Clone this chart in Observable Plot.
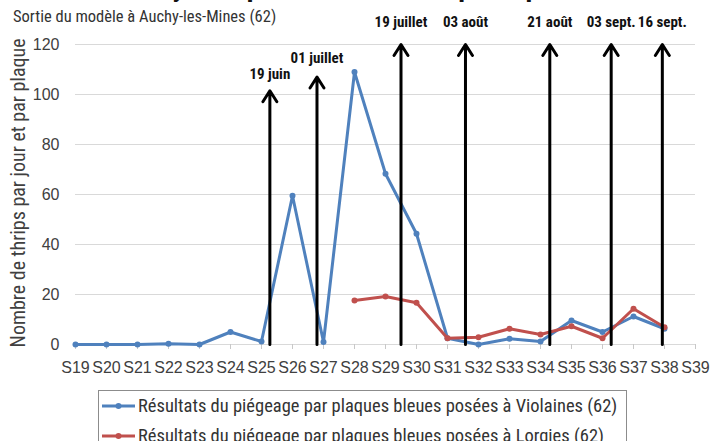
<!DOCTYPE html>
<html>
<head>
<meta charset="utf-8">
<script src="https://cdn.jsdelivr.net/npm/d3@7"></script>
<script src="https://cdn.jsdelivr.net/npm/@observablehq/plot@0.6"></script>
<style>
  body { margin:0; background:#fff; }
  #wrap { position:relative; width:710px; height:441px; overflow:hidden; background:#fff;
          font-family:"Roboto Condensed","Liberation Sans Narrow","DejaVu Sans Condensed","Liberation Sans",sans-serif; }
  #subtitle { position:absolute; left:13px; top:7px; font-size:16.5px; color:#333; white-space:nowrap; }
  #legend { position:absolute; left:98px; top:390px; width:529px; height:70px; border:1px solid #8c8c8c; box-sizing:border-box; }
  .row { position:absolute; left:2px; height:22px; display:flex; align-items:center; font-size:18.5px; color:#333; white-space:nowrap; }
  .row svg { margin-right:2px; }
  svg text.tick { font-family:"Liberation Sans", Arial, sans-serif !important; font-size:16px !important; }
</style>
</head>
<body>
<div id="wrap">
  <div id="chart"></div>
  <div id="subtitle"></div>
  <div id="legend"></div>
</div>
<script>
// ---- Data ----
const titleText = "Dynamique des vols de thrips du poireau";
const subtitleText = "Sortie du modèle à Auchy-les-Mines (62)";
const yAxisLabel = "Nombre de thrips par jour et par plaque";
const weeks = [19,20,21,22,23,24,25,26,27,28,29,30,31,32,33,34,35,36,37,38,39];
const yTicks = [0,20,40,60,80,100,120];
const violainesWeeks = [19,20,21,22,23,24,25,26,27,28,29,30,31,32,33,34,35,36,37,38];
const violainesValues = [0,0,0,0.3,0,5,1.2,59.5,1,109,68.3,44.3,2.5,0,2.3,1.2,9.6,5,11.2,6.3];
const lorgiesWeeks = [28,29,30,31,32,33,34,35,36,37,38];
const lorgiesValues = [17.6,19.2,16.7,2.5,2.9,6.3,4,7.3,2.5,14.3,6.9];
const arrowLabels = ["19 juin","01 juillet","19 juillet","03 août","21 août","03 sept.","16 sept."];
const arrowWeeks = [25.27,26.79,29.5,31.58,34.3,36.28,37.93];
const arrowTops = [101.5,107,120,120,120,120,120];
const labelValues = [108,114.4,128.8,128.8,128.8,128.8,128.8];
const seriesNames = ["Résultats du piégeage par plaques bleues posées à Violaines (62)",
                     "Résultats du piégeage par plaques bleues posées à Lorgies (62)"];
const seriesColors = ["#4f81bd","#c0504d"];

// ---- Tables ----
const violaines = violainesWeeks.map((w,i)=>({week:w, value:violainesValues[i]}));
const lorgies = lorgiesWeeks.map((w,i)=>({week:w, value:lorgiesValues[i]}));
const arrows = arrowWeeks.map((w,i)=>({x:w, top:arrowTops[i], ly:labelValues[i], label:arrowLabels[i]}));

const font = '"Roboto Condensed","Liberation Sans Narrow","DejaVu Sans Condensed","Liberation Sans",sans-serif';
const tickFont = '"Liberation Sans", Arial, sans-serif';

const chart = Plot.plot({
  width:710, height:380,
  marginTop:44, marginLeft:75, marginRight:15, marginBottom:36,
  x:{domain:[19,39], label:null},
  y:{domain:[0,120], label:null},
  style:{fontFamily:font, fontSize:"15px", color:"#404040", overflow:"visible", background:"transparent"},
  marks:[
    Plot.gridY(yTicks.slice(1), {stroke:"#d9d9d9", strokeOpacity:1, strokeWidth:1}),
    Plot.ruleY([0], {stroke:"#d9d9d9", strokeWidth:1}),
    Plot.axisX(weeks, {tickSize:5, stroke:"#c8c8c8", tickFormat:()=>"", label:null}),
    Plot.axisX(weeks, {tickSize:0, tickPadding:17, tickFormat:d=>"S"+d, fill:"#404040", fontFamily:tickFont, fontSize:16, label:null}),
    Plot.axisY(yTicks, {tickSize:0, tickPadding:16, fill:"#404040", fontFamily:tickFont, fontSize:16, label:null}),
    Plot.line(violaines, {x:"week", y:"value", stroke:seriesColors[0], strokeWidth:3}),
    Plot.dot(violaines, {x:"week", y:"value", fill:seriesColors[0], r:3}),
    Plot.line(lorgies, {x:"week", y:"value", stroke:seriesColors[1], strokeWidth:3}),
    Plot.dot(lorgies, {x:"week", y:"value", fill:seriesColors[1], r:3}),
    Plot.arrow(arrows, {x1:"x", x2:"x", y1:()=>0, y2:"top", stroke:"#000", strokeWidth:3, headLength:6.5, headAngle:65}),
    Plot.text(arrows, {x:"x", y:"ly", text:"label", fontWeight:"bold", fontSize:15, fill:"#111"})
  ]
});
document.getElementById("chart").appendChild(chart);

const svg = d3.select(chart);
// tick label fonts
svg.selectAll("text")
  .filter(function(){ return /^(S\d+|\d+)$/.test(this.textContent.trim()); })
  .classed("tick", true)
  .attr("font-family", tickFont).attr("font-size", 16);
// y-axis title (rotated)
svg.append("text")
  .attr("transform","translate(18,193) rotate(-90)")
  .attr("text-anchor","middle").attr("dominant-baseline","central")
  .attr("fill","#404040").attr("font-size",20).attr("font-family",font)
  .text(yAxisLabel);
// title, cut off at the top edge as in the reference
svg.append("text")
  .attr("x",383).attr("y",-4)
  .attr("text-anchor","middle")
  .attr("fill","#111").attr("font-size",28).attr("font-weight","bold").attr("font-family",font)
  .text(titleText);

document.getElementById("subtitle").textContent = subtitleText;

const legend = document.getElementById("legend");
seriesNames.forEach((name,i)=>{
  const row = document.createElement("div");
  row.className = "row";
  row.style.top = (4 + i*30) + "px";
  row.innerHTML = `<svg width="35" height="10"><line x1="1" x2="34" y1="5" y2="5" stroke="${seriesColors[i]}" stroke-width="3"/><circle cx="17.5" cy="5" r="3" fill="${seriesColors[i]}"/></svg><span></span>`;
  row.querySelector("span").textContent = name;
  legend.appendChild(row);
});
</script>
</body>
</html>
